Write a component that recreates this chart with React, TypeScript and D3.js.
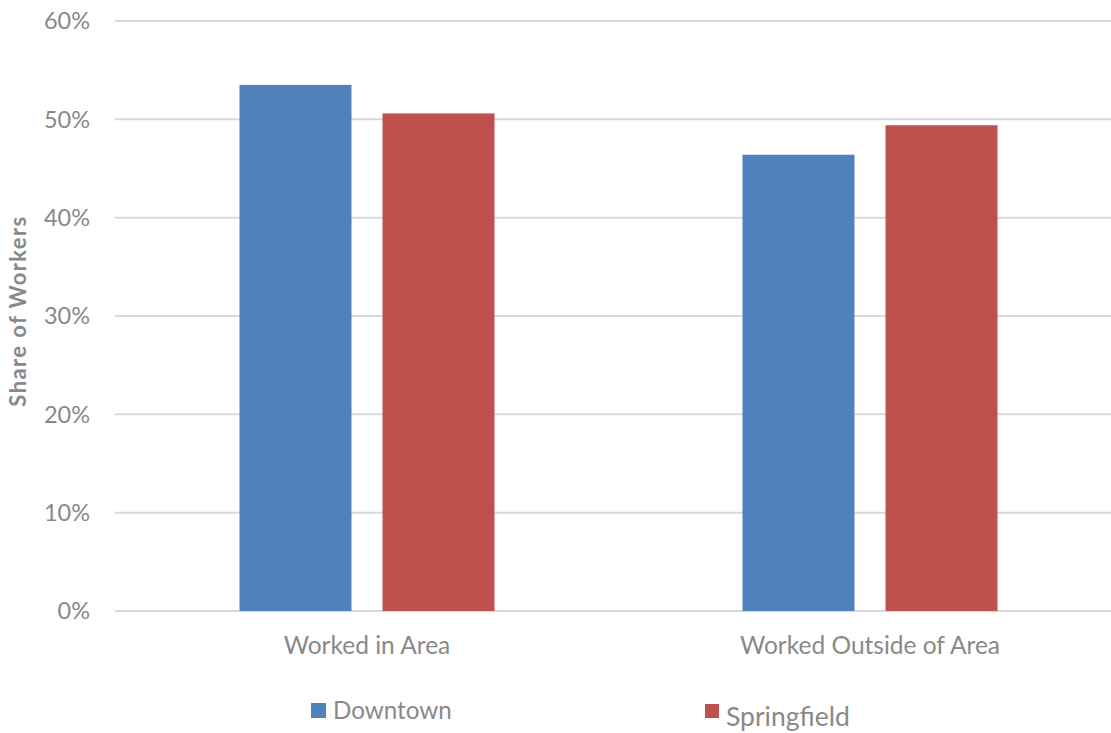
import * as d3 from 'd3'

const categories = ['Worked in Area', 'Worked Outside of Area']
const seriesNames = ['Downtown', 'Springfield']
const downtown = [0.535, 0.464]
const springfield = [0.506, 0.494]
const yTicks = [0, 0.1, 0.2, 0.3, 0.4, 0.5, 0.6]

const colors: Record<string, string> = { Downtown: '#4f81bd', Springfield: '#c0504d' }
const W = 1111
const H = 733
const font = 'Lato, "Open Sans", sans-serif'

export default function App() {
  const values: Record<string, number[]> = { Downtown: downtown, Springfield: springfield }

  const x0 = d3.scaleBand<string>().domain(categories).range([115.5, 1121.5])
  const x1 = d3
    .scaleBand<string>()
    .domain(seriesNames)
    .range([0, x0.bandwidth()])
    .paddingInner(0.2168)
    .paddingOuter(0.867)
  const y = d3.scaleLinear().domain([0, 0.6]).range([611, 21])
  const fmt = d3.format('.0%')

  return (
    <div style={{ position: 'fixed', left: 0, top: 0 }}>
      <svg width={W} height={H} style={{ display: 'block', background: '#fff' }}>
        {/* gridlines */}
        {yTicks.map(t => (
          <line key={t} x1={115} x2={W} y1={y(t)} y2={y(t)} stroke="#d9d9d9" strokeWidth={2} />
        ))}
        {/* y tick labels */}
        {yTicks.map(t => (
          <text
            key={'l' + t}
            x={90}
            y={y(t)}
            dy="0.36em"
            textAnchor="end"
            fontFamily={font}
            fontSize={23.5}
            fill="#898989"
          >
            {fmt(t)}
          </text>
        ))}
        {/* bars */}
        {categories.map((c, ci) =>
          seriesNames.map(s => (
            <rect
              key={c + s}
              x={(x0(c) ?? 0) + (x1(s) ?? 0)}
              y={y(values[s][ci])}
              width={x1.bandwidth()}
              height={y(0) - y(values[s][ci])}
              fill={colors[s]}
            />
          ))
        )}
        {/* category labels */}
        {categories.map(c => (
          <text
            key={'c' + c}
            x={(x0(c) ?? 0) + x0.bandwidth() / 2}
            y={654}
            textAnchor="middle"
            fontFamily={font}
            fontSize={24.5}
            fill="#898989"
          >
            {c}
          </text>
        ))}
        {/* y axis title */}
        <text
          transform="translate(26,311) rotate(-90)"
          textAnchor="middle"
          fontFamily={font}
          fontSize={22}
          letterSpacing={1.4}
          fontWeight="bold"
          fill="#898989"
        >
          Share of Workers
        </text>
        {/* legend */}
        <rect x={311} y={703} width={15} height={15} fill={colors.Downtown} />
        <text x={333} y={719} fontFamily={font} fontSize={24.2} fill="#898989">
          Downtown
        </text>
        <rect x={705} y={704} width={14} height={14} fill={colors.Springfield} />
        <text x={726} y={726} fontFamily={font} fontSize={26.5} fill="#898989">
          Springfield
        </text>
      </svg>
    </div>
  )
}
